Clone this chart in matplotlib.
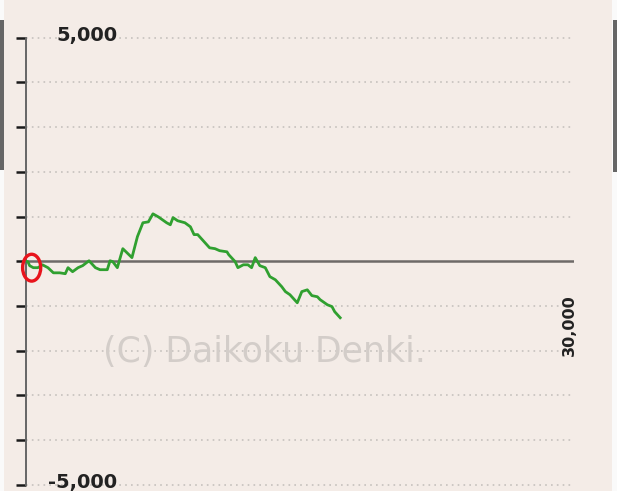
import matplotlib
matplotlib.use("Agg")
import matplotlib.pyplot as plt
from matplotlib.patches import Ellipse, Rectangle

# games played vs. medal difference
games = [0, 100, 200, 400, 650, 900, 1200, 1500, 1850, 2150, 2300, 2550, 2850,
         3100, 3450, 3800, 4050, 4450, 4600, 4750, 5000, 5300, 5800, 6100,
         6400, 6700, 6950, 7250, 7700, 7900, 8050, 8300, 8700, 9000, 9200,
         9400, 10050, 10350, 10600, 11000, 11100, 11450, 11600, 11900, 12150,
         12350, 12550, 12800, 13100, 13350, 13650, 14000, 14200, 14450, 14850,
         15100, 15400, 15650, 15950, 16100, 16500, 16750, 16900, 17200]
diff = [0, -10, -100, -145, -145, -80, -145, -260, -260, -280, -145, -235,
        -145, -100, 10, -145, -190, -190, 10, -10, -145, 280, 80, 550, 860,
        880, 1060, 990, 860, 815, 975, 905, 860, 770, 595, 595, 300, 280, 235,
        210, 145, -10, -145, -80, -80, -145, 80, -100, -145, -345, -415, -570,
        -680, -750, -930, -680, -640, -770, -795, -860, -975, -1015, -1130,
        -1265]

grid_levels = [-5000, -4000, -3000, -2000, -1000, 1000, 2000, 3000, 4000, 5000]
tick_levels = [-5000, -4000, -3000, -2000, -1000, 0, 1000, 2000, 3000, 4000, 5000]
top_label = "5,000"
bottom_label = "-5,000"
x_max_label = "30,000"
watermark = "(C) Daikoku Denki."

bg = "#f4ece7"
W, H = 617, 491

fig = plt.figure(figsize=(W / 100, H / 100), dpi=100, facecolor=bg)
ax = fig.add_axes([26 / W, (H - 484.7) / H, 548 / W, 447 / H])
ax.set_facecolor(bg)
ax.set_xlim(0, 30000)
ax.set_ylim(-5000, 5000)

for side in ["top", "right", "bottom"]:
    ax.spines[side].set_visible(False)
ax.spines["left"].set_color("#666666")
ax.spines["left"].set_linewidth(1.4)
ax.set_yticks(tick_levels)
ax.set_yticklabels([])
ax.set_xticks([])
ax.tick_params(axis="y", length=7.5, width=1.8, color="#1a1a1a")

# dotted grid and zero line
ax.hlines(grid_levels, 0, 30000, colors="#c6c1bd", linewidth=1.2,
          linestyles=(0, (1, 2.5)), clip_on=False)
ax.axhline(0, color="#6e6a68", linewidth=1.8)

ax.text(5000, 5000 + 60, top_label, ha="right", va="center", fontsize=14,
        fontweight="bold", color="#222222", clip_on=False)
ax.text(5000, -5000 + 40, bottom_label, ha="right", va="center", fontsize=14,
        fontweight="bold", color="#222222", clip_on=False)
ax.text(29750, -1420, x_max_label, rotation=90, ha="center", va="center",
        fontsize=11.5, fontweight="bold", color="#222222")
ax.text(13060, -2030, watermark, ha="center", va="center", fontsize=25,
        color="#d3cdc9")

ax.plot(games, diff, color="#30a030", linewidth=2.0, zorder=5)

ax.add_patch(Ellipse((310, -145), 990, 600, fill=False, edgecolor="#e8141c",
                     linewidth=2.4, clip_on=False, zorder=6))

# page side strips and nav tabs
fig.patches.append(Rectangle((0, 0), 4 / W, 1, transform=fig.transFigure,
                             facecolor="#fafafa", edgecolor="none"))
fig.patches.append(Rectangle((612 / W, 0), 5 / W, 1, transform=fig.transFigure,
                             facecolor="#fafafa", edgecolor="none"))
fig.patches.append(Rectangle((0, (H - 170) / H), 4 / W, 150 / H,
                             transform=fig.transFigure, facecolor="#666666",
                             edgecolor="none"))
fig.patches.append(Rectangle((613 / W, (H - 172) / H), 4 / W, 152 / H,
                             transform=fig.transFigure, facecolor="#666666",
                             edgecolor="none"))

fig.savefig("out.png", dpi=100, facecolor=bg)
